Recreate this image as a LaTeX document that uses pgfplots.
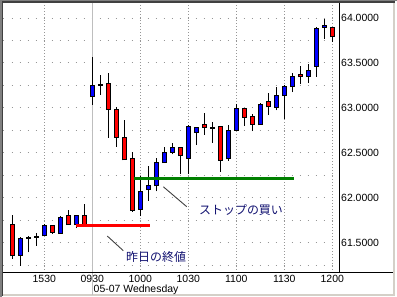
\documentclass[border=0pt]{standalone}
\usepackage{pgfplots}
\pgfplotsset{compat=1.18}
\usepackage{pgfplotstable}
\usepackage{fontspec}
\setmainfont{Liberation Sans}
\newfontfamily\jp{Noto Sans CJK JP}
\definecolor{cred}{RGB}{255,0,0}
\definecolor{cblue}{RGB}{0,0,255}
\definecolor{cgreen}{RGB}{0,128,0}
\definecolor{navy}{RGB}{16,16,112}
\definecolor{gridc}{RGB}{150,150,150}
\definecolor{sepc}{RGB}{190,190,190}
\definecolor{frdark}{RGB}{64,64,64}
\definecolor{frmid}{RGB}{128,128,128}
\definecolor{frlight}{RGB}{212,208,200}

% down candles: lo = close, hi = open
\pgfplotstableread{
x   lo      hi      low     high
-10 61.350  61.700  61.320  61.810
-5  61.615  61.685  61.595  61.690
-3  61.700  61.800  61.700  61.865
-1  61.700  61.800  61.680  61.930
2   62.980  63.270  62.665  63.390
3   62.670  62.980  62.565  63.005
4   62.420  62.670  62.420  62.865
5   61.855  62.430  61.840  62.510
11  62.465  62.560  62.265  62.560
14  62.780  62.810  62.700  62.940
16  62.415  62.790  62.290  62.790
19  62.890  62.990  62.800  62.995
20  62.815  62.900  62.740  62.930
22  63.010  63.070  62.920  63.160
26  63.345  63.375  63.265  63.465
30  63.790  63.890  63.735  63.895
}\downtab

% up candles: lo = open, hi = close
\pgfplotstableread{
x   lo      hi      low     high
-9  61.360  61.540  61.240  61.560
-6  61.575  61.685  61.575  61.705
-4  61.600  61.775  61.600  61.795
-2  61.700  61.800  61.660  61.800
0   63.125  63.245  63.035  63.570
6   61.870  62.070  61.790  62.235
7   62.090  62.140  61.965  62.350
8   62.130  62.390  62.070  62.440
9   62.390  62.505  62.390  62.560
10  62.505  62.560  62.480  62.610
12  62.440  62.795  62.265  62.810
13  62.725  62.780  62.585  62.790
17  62.430  62.750  62.410  62.810
18  62.750  62.990  62.750  63.045
21  62.810  63.040  62.810  63.050
23  63.005  63.140  62.970  63.230
24  63.135  63.235  62.870  63.255
25  63.235  63.350  63.175  63.390
27  63.350  63.420  63.275  63.490
28  63.460  63.885  63.345  63.895
29  63.895  63.920  63.770  63.990
}\uptab

% doji candles
\pgfplotstableread{
x   lo      hi      low     high
-8  61.545  61.555  61.390  61.570
-7  61.560  61.570  61.465  61.605
1   63.250  63.260  63.145  63.370
15  62.775  62.785  62.610  62.845
}\dojitab

\pgfplotsset{
  wick/.style={draw=none, mark=none, forget plot,
    error bars/.cd, y dir=plus, y explicit, error mark=none,
    error bar style={draw=black, line width=1bp}},
  bodyedge/.style={draw=none, mark=none, forget plot,
    error bars/.cd, y dir=plus, y explicit, error mark=none,
    error bar style={draw=black, line width=5bp, shorten <=-0.5bp, shorten >=-0.5bp}},
  bodyfill/.style={draw=none, mark=none, forget plot,
    error bars/.cd, y dir=plus, y explicit, error mark=none,
    error bar style={draw=#1, line width=3bp, shorten <=0.5bp, shorten >=0.5bp}},
}

\begin{document}
\begin{tikzpicture}
\useasboundingbox (0,0) rectangle (397bp,297bp);
\fill[white] (0,0) rectangle (397bp,297bp);
% window frame
\fill[frmid] (0,0) rectangle (1.5bp,297bp);
\fill[frmid] (0,295.5bp) rectangle (397bp,297bp);
\fill[frdark] (1.5bp,1.5bp) rectangle (3bp,295.5bp);
\fill[frdark] (1.5bp,294bp) rectangle (395bp,295.5bp);
\fill[frlight] (393bp,1.5bp) rectangle (394.5bp,294bp);
\fill[frlight] (3bp,1bp) rectangle (394.5bp,2.5bp);

\begin{axis}[
  at={(3bp,24bp)}, anchor=south west,
  scale only axis, width=336bp, height=270bp,
  xmin=-11.1625, xmax=30.8375, ymin=61.1604, ymax=64.1670,
  clip=false,
  axis line style={draw=none},
  major tick length=0pt, minor tick length=0pt,
  xtick={-6,0,6,12,18,24,30},
  xticklabels={1530,0930,1000,1030,1100,1130,1200},
  ytick={61.5,62,62.5,63,63.5,64},
  minor ytick={61.25,61.75,62.25,62.75,63.25,63.75},
  xmajorgrids, ymajorgrids, yminorgrids,
  major x grid style={gridc, line width=0.8bp, dash pattern=on 1bp off 2bp},
  major y grid style={gridc, line width=0.9bp, dash pattern=on 1bp off 7bp, dash phase=7.5bp},
  minor y grid style={gridc, line width=0.9bp, dash pattern=on 1bp off 7bp, dash phase=7.5bp},
  yticklabel pos=right,
  tick label style={font=\fontsize{10.5}{12}\selectfont},
  yticklabel style={anchor=west, inner sep=0pt, xshift=2bp,
    /pgf/number format/.cd, fixed, fixed zerofill, precision=4, assume math mode=true},
  xticklabel style={anchor=base, inner sep=0pt, yshift=-9.7bp},
]
% day separator
\draw[sepc, line width=1bp] (axis cs:0,64.167) -- ([yshift=-22bp]axis cs:0,61.1604);

% wicks
\addplot[wick] table[x=x, y=low, y error plus expr=\thisrow{high}-\thisrow{low}] \downtab;
\addplot[wick] table[x=x, y=low, y error plus expr=\thisrow{high}-\thisrow{low}] \uptab;
\addplot[wick] table[x=x, y=low, y error plus expr=\thisrow{high}-\thisrow{low}] \dojitab;
% bodies
\addplot[bodyedge] table[x=x, y=lo, y error plus expr=\thisrow{hi}-\thisrow{lo}] \downtab;
\addplot[bodyedge] table[x=x, y=lo, y error plus expr=\thisrow{hi}-\thisrow{lo}] \uptab;
\addplot[bodyedge] table[x=x, y=lo, y error plus expr=\thisrow{hi}-\thisrow{lo}] \dojitab;
\addplot[bodyfill=cred] table[x=x, y=lo, y error plus expr=\thisrow{hi}-\thisrow{lo}] \downtab;
\addplot[bodyfill=cblue] table[x=x, y=lo, y error plus expr=\thisrow{hi}-\thisrow{lo}] \uptab;

% reference lines
\addplot[cred, line width=3bp, forget plot] coordinates {(-2.0,61.694) (7.2,61.694)};
\addplot[cgreen, line width=3bp, forget plot] coordinates {(5.25,62.209) (25.17,62.209)};

% annotations
\draw[frdark, line width=0.9bp] (axis cs:1.875,61.572) -- (axis cs:3.875,61.409);
\draw[frdark, line width=0.9bp] (axis cs:8.875,62.121) -- (axis cs:11.8,61.899);
\node[anchor=west, inner sep=0pt, text=navy, font=\jp\fontsize{12}{14}\selectfont]
  at (axis cs:4.21,61.344) {昨日の終値};
\node[anchor=west, inner sep=0pt, text=navy, font=\jp\fontsize{12}{14}\selectfont]
  at (axis cs:13.34,61.867) {ストップの買い};
\end{axis}

% axis lines
\draw[black, line width=1bp] (3bp,24bp) -- (393bp,24bp);
\draw[black, line width=1bp] (339bp,24bp) -- (339bp,294bp);
% date label
\node[anchor=base west, inner sep=0pt, font=\fontsize{10.5}{12}\selectfont] at (93.5bp,5bp) {05-07 Wednesday};
\end{tikzpicture}
\end{document}
